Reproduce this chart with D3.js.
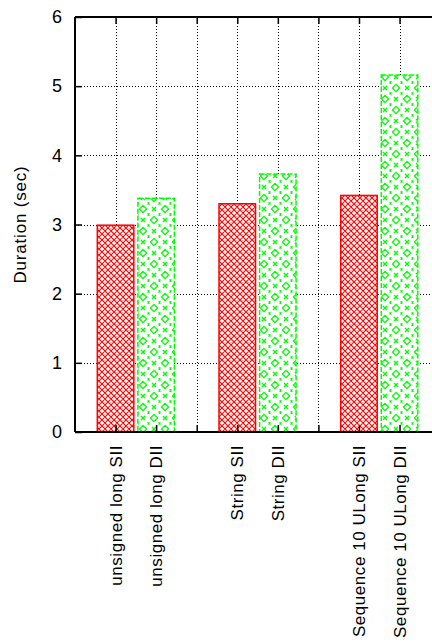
<!DOCTYPE html>
<html><head><meta charset="utf-8">
<script src="https://cdn.jsdelivr.net/npm/d3@7"></script>
<style>body{margin:0;background:#fff}svg{display:block;font-family:"Liberation Sans",Arial,sans-serif}</style>
</head><body><svg id="c" width="432" height="644"></svg>
<script>
const labels = ["unsigned long SII","unsigned long DII","String SII","String DII","Sequence 10 ULong SII","Sequence 10 ULong DII"];
const positions = [0,1,3,4,6,7];
const durations = [2.99,3.38,3.30,3.73,3.42,5.16];
const kinds = ["SII","DII","SII","DII","SII","DII"];
const yTicks = [0,1,2,3,4,5,6];
const xTicks = [0,1,2,3,4,5,6,7];

const svg = d3.select("#c");
const L=75, R=432, T=17, B=432;
const x = d3.scaleLinear().domain([-1,7.8]).range([L,R]);
const y = d3.scaleLinear().domain([0,6]).range([B,T]);

const defs = svg.append("defs");
// red crosshatch
const pr = defs.append("pattern").attr("id","pRed").attr("patternUnits","userSpaceOnUse").attr("width",6).attr("height",6);
pr.append("rect").attr("width",6).attr("height",6).attr("fill","#fff");
pr.append("path").attr("d","M0,0L6,6M6,0L0,6M-3,3L3,9M3,-3L9,3M-3,3L3,-3M3,9L9,3").attr("stroke","#ff0000").attr("stroke-width",1.1);
pr.append("rect").attr("x",2.5).attr("y",-0.5).attr("width",1).attr("height",1).attr("fill","#ff0000");
// green diamonds and crosses
const S=22, H=11;
const pg = defs.append("pattern").attr("id","pGreen").attr("patternUnits","userSpaceOnUse").attr("width",S).attr("height",S);
pg.append("rect").attr("width",S).attr("height",S).attr("fill","#fff");
const dia = (cx,cy,r)=>`M${cx},${cy-r}L${cx+r},${cy}L${cx},${cy+r}L${cx-r},${cy}Z`;
const crs = (cx,cy,r)=>`M${cx-r},${cy-r}L${cx+r},${cy+r}M${cx+r},${cy-r}L${cx-r},${cy+r}`;
pg.append("path").attr("d",[dia(0,0,3.6),dia(S,0,3.6),dia(0,S,3.6),dia(S,S,3.6),dia(H,H,3.6)].join(""))
  .attr("fill","none").attr("stroke","#00ff00").attr("stroke-width",1.3);
pg.append("path").attr("d",[crs(H,0,2),crs(0,H,2),crs(S,H,2),crs(H,S,2)].join(""))
  .attr("stroke","#00ff00").attr("stroke-width",1.4);
pg.append("path").attr("d",[[5.5,5.5],[16.5,5.5],[5.5,16.5],[16.5,16.5]].map(p=>`M${p[0]-1},${p[1]-1}L${p[0]+1},${p[1]+1}M${p[0]+1},${p[1]-1}L${p[0]-1},${p[1]+1}`).join(""))
  .attr("stroke","#00ff00").attr("stroke-width",1.2);

// grid
const g = svg.append("g");
g.selectAll("line.hg").data(yTicks.slice(1,-1)).join("line")
  .attr("x1",L).attr("x2",R).attr("y1",d=>Math.round(y(d))+0.5).attr("y2",d=>Math.round(y(d))+0.5)
  .attr("stroke","#000").attr("stroke-width",1).attr("stroke-dasharray","1,2");
g.selectAll("line.vg").data(xTicks).join("line")
  .attr("x1",d=>Math.round(x(d))+0.5).attr("x2",d=>Math.round(x(d))+0.5).attr("y1",T).attr("y2",B)
  .attr("stroke","#000").attr("stroke-width",1).attr("stroke-dasharray","1,2");

// bars
const bw = x(0.9)-x(0);
svg.selectAll("rect.bar").data(durations).join("rect")
  .attr("x",(d,i)=>x(positions[i])-bw/2).attr("width",bw)
  .attr("y",d=>y(d)).attr("height",d=>B-y(d))
  .attr("fill",(d,i)=>kinds[i]==="SII"?"url(#pRed)":"url(#pGreen)")
  .attr("stroke",(d,i)=>kinds[i]==="SII"?"#ff0000":"#00ff00")
  .attr("stroke-width",1.5)
  .attr("stroke-dasharray",(d,i)=>kinds[i]==="SII"?null:"5,2");

// axes frame
svg.append("line").attr("x1",L).attr("x2",L).attr("y1",T).attr("y2",B).attr("stroke","#000").attr("stroke-width",2);
svg.append("line").attr("x1",L).attr("x2",R).attr("y1",B).attr("y2",B).attr("stroke","#000").attr("stroke-width",2);
svg.append("line").attr("x1",L).attr("x2",R).attr("y1",T).attr("y2",T).attr("stroke","#000").attr("stroke-width",2);

// y ticks
const yAxis = d3.axisLeft(y).tickValues(yTicks).tickSize(-7).tickPadding(13).tickFormat(d3.format("d"));
const ya = svg.append("g").attr("transform",`translate(${L},0)`).call(yAxis);
ya.select(".domain").remove();
ya.selectAll("line").attr("stroke","#000").attr("stroke-width",1.5);
ya.selectAll("text").attr("font-size",18).attr("fill","#000").attr("font-family","Liberation Sans, Arial, sans-serif");

// x ticks (bottom, inward) and top mirror
const xb = svg.append("g").attr("transform",`translate(0,${B})`).call(d3.axisBottom(x).tickValues(xTicks).tickSize(-7).tickFormat(""));
xb.select(".domain").remove();
xb.selectAll("line").attr("stroke","#000").attr("stroke-width",1.5);
const xt = svg.append("g").attr("transform",`translate(0,${T})`).call(d3.axisTop(x).tickValues(xTicks).tickSize(-7).tickFormat(""));
xt.select(".domain").remove();
xt.selectAll("line").attr("stroke","#000").attr("stroke-width",1.5);

// x labels rotated
svg.selectAll("text.xl").data(labels).join("text")
  .attr("transform",(d,i)=>`translate(${x(positions[i])},445) rotate(-90)`)
  .attr("text-anchor","end").attr("dy","0.36em")
  .attr("font-size",17).attr("letter-spacing",0.55).attr("fill","#000").text(d=>d);

// y axis title
svg.append("text").attr("transform",`translate(20,${(T+B)/2}) rotate(-90)`)
  .attr("text-anchor","middle").attr("dy","0.36em").attr("font-size",17).attr("letter-spacing",0.8).attr("fill","#000").text("Duration (sec)");
</script></body></html>
